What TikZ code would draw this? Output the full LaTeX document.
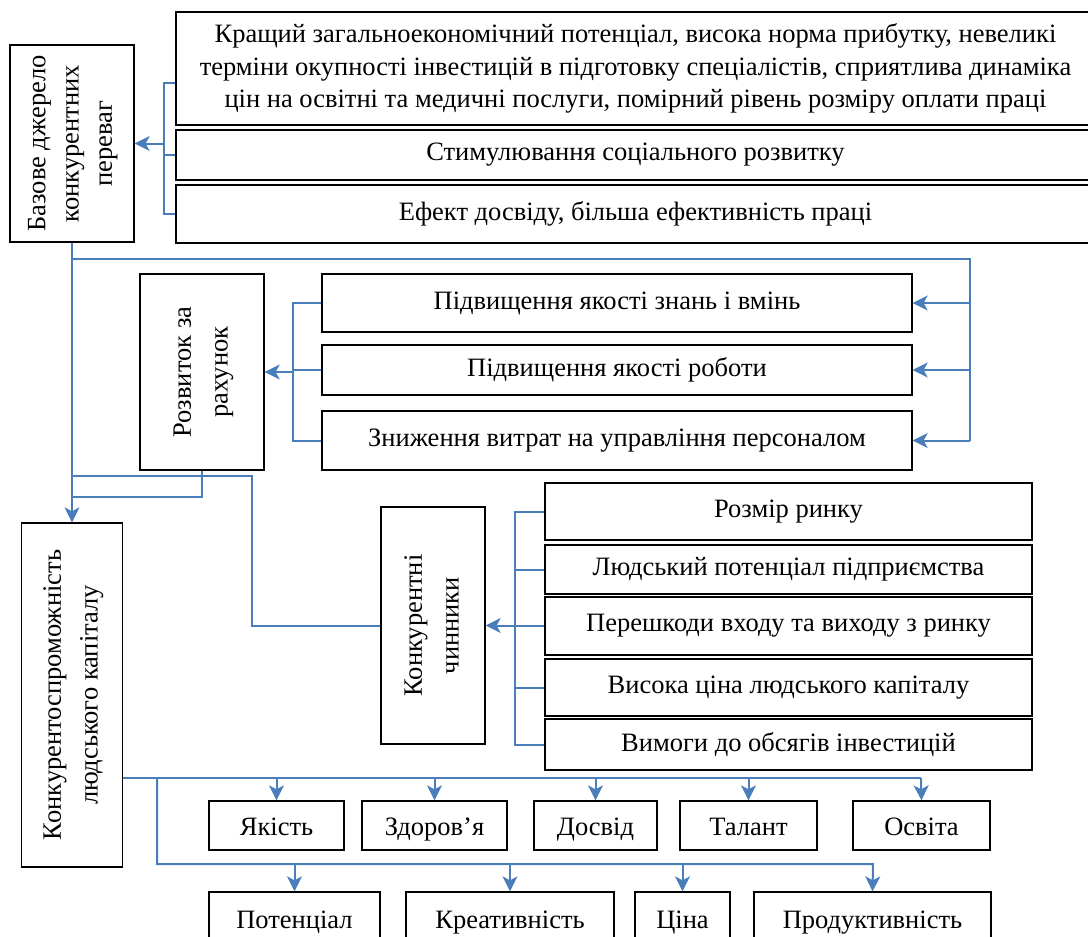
\documentclass[tikz,border=0pt]{standalone}
\usepackage{fontspec}
\setmainfont{Liberation Serif}
\usetikzlibrary{arrows.meta}
\definecolor{linkblue}{RGB}{74,126,187}
\newcommand{\vtext}[2][1.13]{\rotatebox{90}{\renewcommand\arraystretch{#1}\begin{tabular}{@{}c@{}}#2\end{tabular}}}

\begin{document}
\begin{tikzpicture}[x=1pt,y=-1pt,>={Stealth[length=15pt,width=15pt,inset=4pt]},
  font=\fontsize{26.5}{32.5}\selectfont,
  box/.style={draw=black,line width=1.3pt,inner sep=0pt,align=center},
  cell/.style={box,text height=20pt,text depth=0pt},
  link/.style={draw=linkblue,line width=2pt}]
\useasboundingbox (0,0) rectangle (1088,937);
\clip (0,0) rectangle (1088,937);
% top level
\node[box,minimum width=124,minimum height=197] (dzh) at (72,143.5) {\vtext[1.02]{Базове джерело\\конкурентних\\переваг}};
\node[box,minimum width=919,minimum height=113] (t1) at (635.5,68.5) {Кращий загальноекономічний потенціал, висока норма прибутку, невеликі\\терміни окупності інвестицій в підготовку спеціалістів, сприятлива динаміка\\цін на освітні та медичні послуги, помірний рівень розміру оплати праці};
\node[box,minimum width=919,minimum height=50] (t2) at (635.5,155) {Стимулювання соціального розвитку};
\node[box,minimum width=919,minimum height=58] (t3) at (635.5,214) {Ефект досвіду, більша ефективність праці};
% middle
\node[box,minimum width=124,minimum height=196] (rozv) at (202,372) {\vtext{Розвиток за\\рахунок}};
\node[box,minimum width=590,minimum height=58] (m1) at (617,303) {Підвищення якості знань і вмінь};
\node[box,minimum width=590,minimum height=50] (m2) at (617,370) {Підвищення якості роботи};
\node[box,minimum width=590,minimum height=59] (m3) at (617,440.5) {Зниження витрат на управління персоналом};
% factors
\node[box,minimum width=101,minimum height=344] (kon) at (72,695) {\vtext{Конкурентоспроможність\\людського капіталу}};
\node[box,minimum width=104,minimum height=237] (chyn) at (433,625.5) {\vtext{Конкурентні\\чинники}};
\node[box,minimum width=487,minimum height=57] (r1) at (788.5,511.5) {Розмір ринку};
\node[box,minimum width=487,minimum height=49] (r2) at (788.5,569.5) {Людський потенціал підприємства};
\node[box,minimum width=487,minimum height=58] (r3) at (788.5,626) {Перешкоди входу та виходу з ринку};
\node[box,minimum width=487,minimum height=57] (r4) at (788.5,687.5) {Висока ціна людського капіталу};
\node[box,minimum width=487,minimum height=51] (r5) at (788.5,744.5) {Вимоги до обсягів інвестицій};
% bottom rows
\node[cell,minimum width=135,minimum height=49] (yak) at (276.5,825.5) {Якість};
\node[cell,minimum width=145,minimum height=49] (zdor) at (434.5,825.5) {Здоров’я};
\node[cell,minimum width=123,minimum height=49] (dosv) at (595.5,825.5) {Досвід};
\node[cell,minimum width=137,minimum height=49] (tal) at (748.5,825.5) {Талант};
\node[cell,minimum width=137,minimum height=49] (osv) at (921.5,825.5) {Освіта};
\node[cell,minimum width=171,minimum height=52] (pot) at (294.5,918) {Потенціал};
\node[cell,minimum width=208,minimum height=52] (kreat) at (510,918) {Креативність};
\node[cell,minimum width=95,minimum height=52] (tsina) at (682.5,918) {Ціна};
\node[cell,minimum width=237,minimum height=52] (prod) at (872.5,918) {Продуктивність};
% connectors
\draw[link] ([yshift=-14.5pt]t1.west) -- ++(-11,0) coordinate (s1) |- (t3.west);
\draw[link] (t2.west) -- (t2.west -| s1);
\draw[link,->] (s1 |- dzh.east) -- (dzh.east);
\coordinate (kr) at (970,259);
\draw[link] (dzh.south) |- (kr) -- (kr |- m3.east);
\foreach \m in {m1,m2,m3} \draw[link,->] (kr |- \m.east) -- (\m.east);
\draw[link] (m1.west) -- ++(-28,0) coordinate (s2) |- (m3.west);
\draw[link] (m2.west) -- (m2.west -| s2);
\draw[link,->] (s2 |- rozv.east) -- (rozv.east);
\draw[link,->] (dzh.south) -- (kon.north);
\draw[link] (rozv.south) |- (kon.north |- 0,497);
\coordinate (kd) at (252,476);
\draw[link] (kon.north |- kd) -- (kd) |- (chyn.west);
\draw[link] (r1.west) -- ++(-29,0) coordinate (s3) |- (r5.west);
\foreach \r in {r2,r3,r4} \draw[link] (\r.west) -- (\r.west -| s3);
\draw[link,->] (s3 |- chyn.east) -- (chyn.east);
\coordinate (h1) at (921,778);
\draw[link] ([yshift=-83pt]kon.east) -- (h1);
\foreach \n in {yak,zdor,dosv,tal} \draw[link,->] (\n.north |- h1) -- (\n.north);
\draw[link,->] (h1) -- (osv.north);
\coordinate (v2) at (157,778);
\coordinate (h2) at (873,864);
\draw[link,->] (v2) |- (h2) -- (prod.north);
\foreach \n in {pot,kreat,tsina} \draw[link,->] (\n.north |- h2) -- (\n.north);
\end{tikzpicture}
\end{document}
